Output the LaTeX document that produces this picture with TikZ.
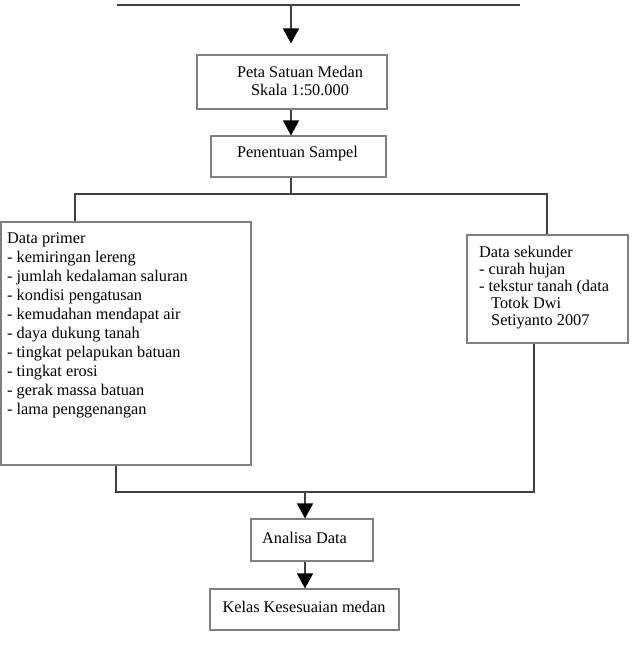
\documentclass[tikz,border=0pt]{standalone}
\usepackage{fontspec}
\setmainfont{Liberation Serif}
\usetikzlibrary{arrows.meta}
\begin{document}
\begin{tikzpicture}[x=1pt,y=-1pt,
  box/.style={draw=black!50,line width=1.1pt,rectangle,inner sep=0pt},
  txt/.style={inner sep=0pt,font=\fontsize{16.3}{18}\selectfont},
  conn/.style={draw=black!75,line width=1.4pt},
  arr/.style={conn,-{Triangle[width=16pt,length=15pt,black]}}]
\useasboundingbox (0,0) rectangle (633,662);
% boxes
\node[box,minimum width=190pt,minimum height=54pt] (peta) at (292,82) {};
\node[box,minimum width=175pt,minimum height=41pt] (sampel) at (298.5,156.5) {};
\node[box,minimum width=250pt,minimum height=243pt] (primer) at (126,343.5) {};
\node[box,minimum width=161pt,minimum height=108pt] (sekunder) at (547.5,289) {};
\node[box,minimum width=122pt,minimum height=42pt] (analisa) at (312,540) {};
\node[box,minimum width=189pt,minimum height=41pt] (kelas) at (304.5,609.5) {};
% texts
\node[txt,align=center] (tpeta) at (300,81) {Peta Satuan Medan\\Skala 1:50.000};
\node[txt] (tsampel) at (297.5,154) {Penentuan Sampel};
\node[txt] (tanalisa) at (304.5,538) {Analisa Data};
\node[txt] (tkelas) at (304,607) {Kelas Kesesuaian medan};
\node[txt,align=left,anchor=north west,font=\fontsize{16.3}{19}\selectfont] (tprimer) at (7,233)
 {Data primer\\- kemiringan lereng\\- jumlah kedalaman saluran\\- kondisi pengatusan\\- kemudahan mendapat air\\- daya dukung tanah\\- tingkat pelapukan batuan\\- tingkat erosi\\- gerak massa batuan\\- lama penggenangan};
\node[txt,align=left,anchor=north west,font=\fontsize{16.3}{17}\selectfont] (tsekunder) at (479,246)
 {Data sekunder\\- curah hujan\\- tekstur tanah (data\\\hspace*{12pt}Totok Dwi\\\hspace*{12pt}Setiyanto 2007};
% coordinates
\coordinate (tl) at (117,5);
\coordinate (tr) at (520,5);
\coordinate (tm) at (291,5);
\coordinate (bl) at (75,194);
\coordinate (bm) at (291,194);
\coordinate (br) at (547,194);
\coordinate (cl) at (116,492);
\coordinate (cm) at (305,492);
\coordinate (cr) at (534,492);
% connectors
\draw[conn] (tl) -- (tr);
\draw[arr,shorten >=11pt] (tm) -- (tm |- peta.north);
\draw[arr] (tm |- peta.south) -- (tm |- sampel.north);
\draw[conn] (tm |- sampel.south) -- (bm);
\draw[conn] (bl |- primer.north) -- (bl) -- (br) -- (br |- sekunder.north);
\draw[conn] (cl |- primer.south) -- (cl) -- (cr) -- (cr |- sekunder.south);
\draw[arr] (cm) -- (cm |- analisa.north);
\draw[arr] (cm |- analisa.south) -- (cm |- kelas.north);
\end{tikzpicture}
\end{document}
